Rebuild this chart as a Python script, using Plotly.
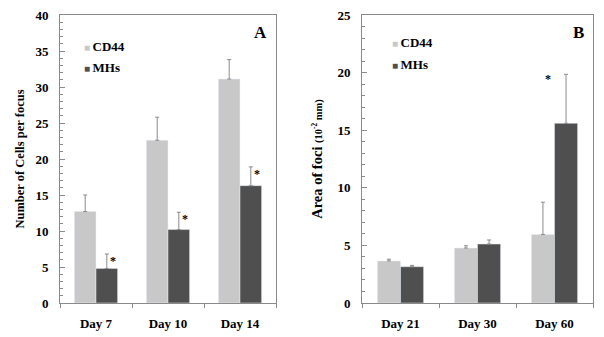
import plotly.graph_objects as go

# Panel A data
days_a = ["Day 7", "Day 10", "Day 14"]
cd44_a = [12.7, 22.6, 31.1]
cd44_a_err = [2.3, 3.2, 2.7]
mhs_a = [4.8, 10.2, 16.3]
mhs_a_err = [2.0, 2.4, 2.6]

# Panel B data
days_b = ["Day 21", "Day 30", "Day 60"]
cd44_b = [3.65, 4.77, 5.95]
cd44_b_err = [0.15, 0.2, 2.8]
mhs_b = [3.15, 5.12, 15.6]
mhs_b_err = [0.12, 0.35, 4.25]

series_names = ["CD44", "MHs"]
sig_a = [True, True, True]   # asterisk on MHs bars
sig_b = [False, False, True]

C_CD44 = "#c8c8c8"
C_MHS = "#4f4f4f"
C_ERR = "#8a8a8a"
FONT = "Liberation Serif"

def err(arr):
    return dict(type="data", symmetric=False, array=arr, arrayminus=[0]*len(arr),
                color=C_ERR, thickness=1, width=2)

fig = go.Figure()
fig.add_trace(go.Bar(x=days_a, y=cd44_a, name=series_names[0], marker_color=C_CD44,
                     error_y=err(cd44_a_err), xaxis="x", yaxis="y"))
fig.add_trace(go.Bar(x=days_a, y=mhs_a, name=series_names[1], marker_color=C_MHS,
                     error_y=err(mhs_a_err), xaxis="x", yaxis="y"))
fig.add_trace(go.Bar(x=days_b, y=cd44_b, name=series_names[0], marker_color=C_CD44,
                     error_y=err(cd44_b_err), xaxis="x2", yaxis="y2"))
fig.add_trace(go.Bar(x=days_b, y=mhs_b, name=series_names[1], marker_color=C_MHS,
                     error_y=err(mhs_b_err), xaxis="x2", yaxis="y2"))

W, H = 604, 337
ydom = [1 - 303 / H, 1 - 15 / H]
xdom_a = [60 / W, 276 / W]
xdom_b = [362 / W, 593 / W]

tickfont = dict(family=FONT, size=13, color="black", weight="bold")

def xaxis(dom, anchor):
    return dict(domain=dom, anchor=anchor, showline=True, linecolor="#8a8a8a", linewidth=1,
                mirror=True, ticks="outside", tickson="boundaries", ticklen=4,
                tickcolor="#8a8a8a", tickfont=tickfont, showgrid=False, zeroline=False,
                ticklabelstandoff=8, automargin=False)

def yaxis(dom, anchor, rng, dtick, title, standoff):
    return dict(domain=dom, anchor=anchor, range=rng, dtick=dtick, showline=True,
                linecolor="#8a8a8a", linewidth=1, mirror=True, ticks="inside", ticklen=5,
                tickcolor="#8a8a8a", tickfont=tickfont, showgrid=False, zeroline=False,
                minor=dict(dtick=1, ticks="inside", ticklen=3, tickcolor="#8a8a8a", showgrid=False),
                ticklabelstandoff=8, automargin=False,
                title=dict(text=title, font=dict(family=FONT, size=12.5, color="black", weight="bold"),
                           standoff=standoff))

fig.update_layout(
    width=W, height=H, margin=dict(l=0, r=0, t=0, b=0, autoexpand=False),
    paper_bgcolor="white", plot_bgcolor="white",
    barmode="group", bargap=0.4, bargroupgap=0,
    xaxis=xaxis(xdom_a, "y"),
    yaxis=yaxis(ydom, "x", [0, 40], 5, "Number of Cells per focus", 8),
    xaxis2=xaxis(xdom_b, "y2"),
    yaxis2=yaxis(ydom, "x2", [0, 25], 5,
                 "<span style='font-size:14.5px'>Area of foci </span>"
                 "<span style='font-size:10.5px'>(10<sup>-2</sup> mm)</span>", 12),
    showlegend=False,
)

lab = dict(family=FONT, size=13, color="black", weight="bold")
annots = [
    dict(text="A", x=260 / W, y=1 - 33 / H, xref="paper", yref="paper", showarrow=False,
         xanchor="center", yanchor="middle",
         font=dict(family=FONT, size=17, color="black", weight="bold")),
    dict(text="B", x=578 / W, y=1 - 33 / H, xref="paper", yref="paper", showarrow=False,
         xanchor="center", yanchor="middle",
         font=dict(family=FONT, size=17, color="black", weight="bold")),
]
# legends drawn as text with coloured square glyphs
for (lx, ly0), xr in [((82, 46), "A"), ((390, 43), "B")]:
    for i, (nm, col) in enumerate(zip(series_names, [C_CD44, C_MHS])):
        annots.append(dict(
            text=f"<span style='color:{col};font-size:10px'>■ </span>{nm}",
            x=lx / W, y=1 - (ly0 + 21 * i) / H, xref="paper", yref="paper",
            xanchor="left", yanchor="middle", showarrow=False, font=lab))

for d, v, e, s in zip(days_a, mhs_a, mhs_a_err, sig_a):
    if s:
        annots.append(dict(text="*", x=d, y=v + e, xref="x", yref="y", showarrow=False,
                           xshift=17, yshift=-7,
                           font=dict(family=FONT, size=12, color="black", weight="bold")))
for d, v, e, s in zip(days_b, mhs_b, mhs_b_err, sig_b):
    if s:
        annots.append(dict(text="*", x=d, y=v + e, xref="x2", yref="y2", showarrow=False,
                           xshift=-7, yshift=-5,
                           font=dict(family=FONT, size=12, color="black", weight="bold")))
fig.update_layout(annotations=annots)

fig.write_html("out.html")
